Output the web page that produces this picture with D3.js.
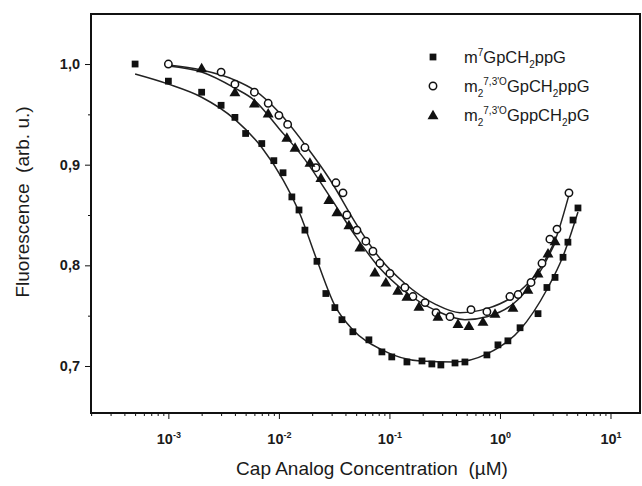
<!DOCTYPE html>
<html>
<head>
<meta charset="utf-8">
<script src="https://cdn.jsdelivr.net/npm/d3@7"></script>
<style>
body { margin: 0; background: #fff; }
svg text { font-family: "Liberation Sans", Arial, sans-serif; fill: #1a1a1a; }
.axis .tick text { font-weight: bold; font-size: 14.5px; }
.axis path, .axis line { stroke: #111; }
.title { white-space: pre; }
</style>
</head>
<body>
<div id="main"></div>
<script>
// m7GpCH2ppG (filled squares)
const sqConc = [5e-4, 1e-3, 2e-3, 3e-3, 4e-3, 5e-3, 7e-3, 9e-3, 0.0109, 0.0131, 0.0152, 0.0172, 0.0221, 0.0266, 0.0321, 0.0372, 0.0467, 0.0652, 0.0855, 0.105, 0.144, 0.197, 0.242, 0.292, 0.392, 0.482, 0.762, 0.959, 1.18, 1.52, 2.21, 2.66, 3.15, 3.72, 4.12, 4.58, 5.08];
const sqFluo = [1.000, 0.983, 0.972, 0.959, 0.947, 0.931, 0.921, 0.904, 0.892, 0.868, 0.855, 0.835, 0.804, 0.772, 0.758, 0.746, 0.734, 0.726, 0.714, 0.709, 0.704, 0.705, 0.702, 0.701, 0.703, 0.704, 0.711, 0.721, 0.725, 0.738, 0.752, 0.778, 0.788, 0.808, 0.823, 0.845, 0.857];

// m2 7,3'O GpCH2ppG (open circles)
const ciConc = [1e-3, 3e-3, 4e-3, 6e-3, 8e-3, 0.010, 0.012, 0.0172, 0.0216, 0.0328, 0.038, 0.0412, 0.0508, 0.0612, 0.0709, 0.082, 0.101, 0.138, 0.163, 0.210, 0.264, 0.353, 0.547, 0.762, 1.23, 1.46, 1.91, 2.40, 2.83, 3.28, 4.21];
const ciFluo = [1.000, 0.992, 0.980, 0.972, 0.961, 0.949, 0.940, 0.917, 0.897, 0.882, 0.872, 0.850, 0.835, 0.824, 0.814, 0.802, 0.792, 0.778, 0.769, 0.763, 0.753, 0.749, 0.756, 0.754, 0.769, 0.771, 0.783, 0.802, 0.826, 0.836, 0.872];

// m2 7,3'O GppCH2pG (filled triangles)
const trConc = [2e-3, 4e-3, 6e-3, 8e-3, 0.0118, 0.014, 0.0191, 0.024, 0.0283, 0.0335, 0.043, 0.0541, 0.0739, 0.0929, 0.119, 0.144, 0.185, 0.275, 0.417, 0.524, 0.702, 0.902, 1.31, 1.79, 2.21, 2.72, 3.15];
const trFluo = [0.996, 0.972, 0.961, 0.951, 0.927, 0.917, 0.902, 0.887, 0.865, 0.853, 0.840, 0.818, 0.793, 0.783, 0.775, 0.769, 0.759, 0.749, 0.742, 0.740, 0.744, 0.752, 0.758, 0.776, 0.792, 0.812, 0.824];

// fitted curves
const sqFitConc = [5e-4, 1e-3, 2e-3, 4e-3, 7e-3, 0.0109, 0.0155, 0.0221, 0.0321, 0.0467, 0.0855, 0.19, 0.392, 0.762, 1.52, 2.66, 3.72, 5.08];
const sqFitFluo = [0.990, 0.980, 0.967, 0.945, 0.917, 0.885, 0.851, 0.805, 0.760, 0.736, 0.716, 0.705, 0.704, 0.712, 0.736, 0.776, 0.809, 0.853];
const ciFitConc = [1e-3, 2e-3, 4e-3, 6e-3, 0.010, 0.0172, 0.029, 0.0508, 0.082, 0.138, 0.264, 0.434, 0.762, 1.46, 2.40, 3.28, 4.21];
const ciFitFluo = [0.999, 0.994, 0.984, 0.974, 0.952, 0.920, 0.885, 0.840, 0.807, 0.782, 0.761, 0.753, 0.757, 0.773, 0.800, 0.830, 0.870];
const trFitConc = [1e-3, 2e-3, 4e-3, 6e-3, 0.010, 0.0172, 0.029, 0.0508, 0.082, 0.138, 0.264, 0.482, 0.762, 1.46, 2.40, 3.15];
const trFitFluo = [0.998, 0.992, 0.976, 0.964, 0.936, 0.905, 0.868, 0.827, 0.797, 0.774, 0.755, 0.746, 0.749, 0.766, 0.797, 0.822];

const xMajor = [1e-3, 1e-2, 1e-1, 1, 10];
const xExp = ["-3", "-2", "-1", "0", "1"];
const yMajor = [0.7, 0.8, 0.9, 1.0];
const yMinor = [0.75, 0.85, 0.95];

const width = 642, height = 486;
const margin = {top: 14, left: 91, right: 2, bottom: 73};

const svg = d3.select('#main').append('svg').attr('width', width).attr('height', height);

const x = d3.scaleLog().domain([Math.pow(10, -3.70), Math.pow(10, 1.267)]).range([margin.left, width - margin.right]);
const y = d3.scaleLinear().domain([0.6533, 1.0497]).range([height - margin.bottom, margin.top]);

// x minor ticks 2..9 per decade
const xMinor = [];
[1e-4, 1e-3, 1e-2, 1e-1, 1, 10].forEach(d => {
  for (let k = 2; k <= 9; k++) {
    const v = d * k;
    if (v >= x.domain()[0] && v <= x.domain()[1]) xMinor.push(v);
  }
});

const yb = height - margin.bottom;

svg.append('g').attr('class', 'axis').attr('transform', `translate(0,${yb})`)
  .call(d3.axisBottom(x).tickValues(xMinor).tickSize(3).tickFormat(''))
  .call(g => g.select('.domain').remove());

const xAx = svg.append('g').attr('class', 'axis').attr('transform', `translate(0,${yb})`)
  .call(d3.axisBottom(x).tickValues(xMajor).tickSize(6).tickPadding(15).tickFormat(''))
  .call(g => g.select('.domain').remove());

xAx.selectAll('.tick text').each(function(d, i) {
  const t = d3.select(this);
  t.text('10');
  t.append('tspan').attr('dy', -6).attr('font-size', '9px').text(xExp[i]);
});

svg.append('g').attr('class', 'axis').attr('transform', `translate(${margin.left},0)`)
  .call(d3.axisLeft(y).tickValues(yMinor).tickSize(3).tickFormat(''))
  .call(g => g.select('.domain').remove());

svg.append('g').attr('class', 'axis').attr('transform', `translate(${margin.left},0)`)
  .call(d3.axisLeft(y).tickValues(yMajor).tickSize(6).tickPadding(5).tickFormat(d => d3.format('.1f')(d).replace('.', ',')))
  .call(g => g.select('.domain').remove());

// frame
svg.append('rect')
  .attr('x', margin.left).attr('y', margin.top)
  .attr('width', width - margin.right - margin.left)
  .attr('height', yb - margin.top)
  .attr('fill', 'none').attr('stroke', '#111').attr('stroke-width', 2);

// fits
const line = d3.line().x(d => x(d[0])).y(d => y(d[1])).curve(d3.curveMonotoneX);
const fits = [[sqFitConc, sqFitFluo], [ciFitConc, ciFitFluo], [trFitConc, trFitFluo]];
fits.forEach(f => {
  svg.append('path').datum(d3.zip(f[0], f[1]))
    .attr('d', line).attr('fill', 'none').attr('stroke', '#222').attr('stroke-width', 1.5);
});

// points
const sq = d3.symbol().type(d3.symbolSquare).size(46);
const tr = d3.symbol().type(d3.symbolTriangle).size(52);

svg.append('g').selectAll('path').data(d3.zip(sqConc, sqFluo)).enter().append('path')
  .attr('d', sq).attr('transform', d => `translate(${x(d[0])},${y(d[1])})`).attr('fill', '#111');

svg.append('g').selectAll('circle').data(d3.zip(ciConc, ciFluo)).enter().append('circle')
  .attr('cx', d => x(d[0])).attr('cy', d => y(d[1])).attr('r', 3.7)
  .attr('fill', '#fff').attr('stroke', '#111').attr('stroke-width', 1.5);

svg.append('g').selectAll('path').data(d3.zip(trConc, trFluo)).enter().append('path')
  .attr('d', tr).attr('transform', d => `translate(${x(d[0])},${y(d[1]) + 1})`).attr('fill', '#111');

// axis titles
svg.append('text').attr('class', 'title').attr('x', 372).attr('y', 475).attr('text-anchor', 'middle')
  .attr('font-size', '19px').text('Cap Analog Concentration  (\u00b5M)');

svg.append('text').attr('class', 'title').attr('transform', 'translate(29,202) rotate(-90)').attr('text-anchor', 'middle')
  .attr('font-size', '19px').text('Fluorescence  (arb. u.)');

// legend
const legY = [57, 86, 115];
const lg = svg.append('g');
lg.append('path').attr('d', sq).attr('transform', `translate(433,${legY[0]})`).attr('fill', '#111');
lg.append('circle').attr('cx', 433).attr('cy', legY[1]).attr('r', 3.7).attr('fill', '#fff').attr('stroke', '#111').attr('stroke-width', 1.5);
lg.append('path').attr('d', tr).attr('transform', `translate(433,${legY[2] + 1})`).attr('fill', '#111');

// parts: [text, dy, size]
function legendText(yy, parts) {
  const t = lg.append('text').attr('x', 464).attr('y', yy + 6).attr('font-size', '16.5px');
  parts.forEach(p => {
    const s = t.append('tspan').text(p[0]);
    if (p[1]) s.attr('dy', p[1]);
    if (p[2]) s.attr('font-size', p[2]);
  });
}
legendText(legY[0], [['m'], ['7', -7, '10px'], ['GpCH', 7], ['2', 5, '10px'], ['ppG', -5]]);
legendText(legY[1], [['m'], ['2', 5, '10px'], ['7,3\'O', -12, '10px'], ['GpCH', 7], ['2', 5, '10px'], ['ppG', -5]]);
legendText(legY[2], [['m'], ['2', 5, '10px'], ['7,3\'O', -12, '10px'], ['GppCH', 7], ['2', 5, '10px'], ['pG', -5]]);
</script>
</body>
</html>
